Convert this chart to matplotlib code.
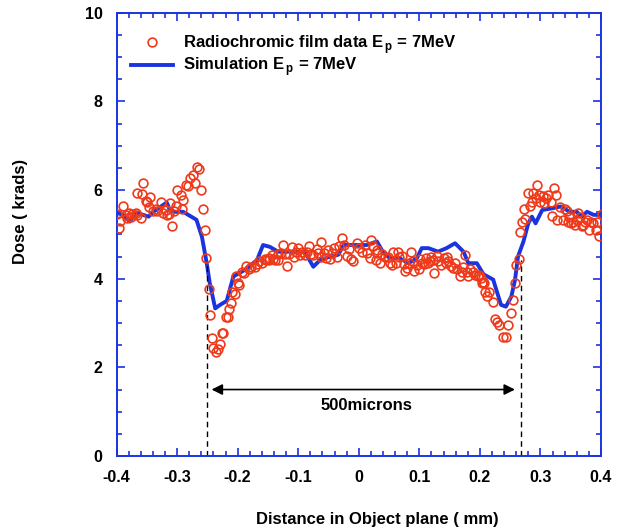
import matplotlib
matplotlib.use("Agg")
import matplotlib.pyplot as plt
from matplotlib.ticker import MultipleLocator

plt.rcParams['font.family'] = ['Liberation Sans', 'DejaVu Sans']
plt.rcParams['font.weight'] = 'bold'
plt.rcParams['mathtext.fontset'] = 'custom'
plt.rcParams['mathtext.bf'] = 'Liberation Sans:bold'
plt.rcParams['mathtext.rm'] = 'Liberation Sans:bold'

# Simulation curve
sim_x = [-0.400, -0.390, -0.378, -0.367, -0.347, -0.339, -0.317, -0.312, -0.306, -0.290,
         -0.268, -0.259, -0.251, -0.246, -0.237, -0.229, -0.218, -0.207, -0.188, -0.168,
         -0.158, -0.147, -0.133, -0.119, -0.089, -0.080, -0.075, -0.064, -0.047, -0.034,
         -0.025, -0.009, 0.013, 0.030, 0.041, 0.052, 0.068, 0.082, 0.096, 0.104,
         0.115, 0.131, 0.145, 0.159, 0.173, 0.181, 0.195, 0.206, 0.222, 0.229,
         0.235, 0.243, 0.252, 0.258, 0.263, 0.272, 0.280, 0.286, 0.292, 0.303,
         0.320, 0.334, 0.348, 0.360, 0.368, 0.377, 0.388, 0.400]
sim_y = [5.48, 5.45, 5.29, 5.49, 5.40, 5.51, 5.72, 5.55, 5.51, 5.51,
         5.33, 4.95, 4.35, 3.90, 3.33, 3.41, 3.50, 4.05, 4.20, 4.42,
         4.76, 4.72, 4.61, 4.61, 4.61, 4.39, 4.27, 4.42, 4.50, 4.54,
         4.76, 4.76, 4.76, 4.84, 4.58, 4.46, 4.46, 4.35, 4.46, 4.69,
         4.69, 4.61, 4.69, 4.80, 4.61, 4.35, 4.35, 4.10, 3.98, 3.67,
         3.41, 3.37, 3.60, 3.97, 4.50, 4.84, 5.25, 5.40, 5.25, 5.55,
         5.59, 5.63, 5.51, 5.51, 5.40, 5.51, 5.44, 5.44]

# Radiochromic film data
film_x = [-0.399, -0.396, -0.394, -0.389, -0.385, -0.379, -0.382, -0.374, -0.376, -0.368,
          -0.366, -0.360, -0.356, -0.366, -0.358, -0.352, -0.349, -0.345, -0.347, -0.340,
          -0.335, -0.333, -0.327, -0.323, -0.319, -0.316, -0.312, -0.313, -0.309, -0.305,
          -0.302, -0.300, -0.294, -0.290, -0.292, -0.286, -0.282, -0.279, -0.273, -0.270,
          -0.267, -0.263, -0.261, -0.257, -0.254,
          -0.252, -0.248, -0.246, -0.243, -0.240, -0.236, -0.233, -0.229, -0.226, -0.224,
          -0.219, -0.216, -0.215, -0.211, -0.209, -0.205, -0.203, -0.199, -0.198, -0.193,
          -0.189, -0.186, -0.182, -0.178, -0.172, -0.168, -0.165, -0.160, -0.155, -0.149,
          -0.144, -0.141,
          -0.153, -0.148, -0.138, -0.134, -0.133, -0.129, -0.125, -0.122, -0.119, -0.115,
          -0.111, -0.107, -0.104, -0.101, -0.097, -0.093, -0.089, -0.086, -0.082, -0.079,
          -0.075, -0.069, -0.067, -0.063, -0.062, -0.057, -0.054, -0.050, -0.047, -0.044,
          -0.041, -0.036, -0.032, -0.027, -0.024, -0.020, -0.016, -0.012, -0.009, -0.003,
          0.001, 0.005, 0.010, 0.013, 0.019, 0.021, 0.024, 0.029, 0.030,
          0.030, 0.035, 0.039, 0.044, 0.049, 0.052, 0.055, 0.057, 0.061, 0.065,
          0.066, 0.071, 0.074, 0.076, 0.079, 0.083, 0.087, 0.090, 0.092, 0.096,
          0.100, 0.101, 0.105, 0.108, 0.111, 0.114, 0.118, 0.120, 0.123, 0.125,
          0.129, 0.131, 0.136, 0.140, 0.144, 0.145, 0.148, 0.152, 0.156, 0.159,
          0.162, 0.167, 0.170, 0.172, 0.175, 0.178, 0.181, 0.184, 0.188, 0.192,
          0.197, 0.202, 0.204, 0.207,
          0.198, 0.206, 0.209, 0.212, 0.215, 0.221, 0.225, 0.228, 0.232, 0.238,
          0.243, 0.246, 0.251, 0.255, 0.258, 0.260, 0.264, 0.266, 0.270, 0.275,
          0.273, 0.279, 0.283, 0.286, 0.288, 0.292, 0.294, 0.297, 0.300, 0.304,
          0.306, 0.310, 0.313, 0.317, 0.319, 0.323, 0.326, 0.328, 0.332, 0.337,
          0.340, 0.344, 0.345, 0.348, 0.351, 0.354, 0.357, 0.360, 0.362, 0.365,
          0.368, 0.371, 0.374, 0.377, 0.381, 0.384, 0.387, 0.391, 0.393, 0.397,
          0.401]
film_y = [5.46, 5.14, 5.30, 5.63, 5.44, 5.48, 5.37, 5.46, 5.39, 5.48,
          5.44, 5.37, 6.17, 5.93, 5.91, 5.76, 5.72, 5.85, 5.61, 5.52,
          5.57, 5.52, 5.72, 5.48, 5.55, 5.44, 5.70, 5.46, 5.18, 5.52,
          5.63, 5.99, 5.89, 5.78, 5.57, 6.12, 6.10, 6.27, 6.34, 6.17,
          6.52, 6.47, 5.99, 5.57, 5.09,
          4.46, 3.76, 3.18, 2.67, 2.43, 2.35, 2.41, 2.52, 2.77, 2.77,
          3.13, 3.13, 3.31, 3.46, 3.69, 3.65, 4.06, 3.91, 3.86, 4.16,
          4.12, 4.29, 4.21, 4.27, 4.26, 4.33, 4.39, 4.35, 4.44, 4.42,
          4.54, 4.44,
          4.42, 4.46, 4.42, 4.56, 4.42, 4.59, 4.76, 4.56, 4.29, 4.56,
          4.71, 4.50, 4.61, 4.69, 4.54, 4.61, 4.54, 4.61, 4.74, 4.56,
          4.54, 4.67, 4.58, 4.82, 4.50, 4.59, 4.46, 4.65, 4.44, 4.58,
          4.69, 4.50, 4.73, 4.91, 4.76, 4.51, 4.67, 4.44, 4.41, 4.80,
          4.69, 4.61, 4.76, 4.59, 4.46, 4.88, 4.73, 4.42, 4.65,
          4.58, 4.35, 4.56, 4.48, 4.50, 4.35, 4.31, 4.61, 4.35, 4.61,
          4.50, 4.51, 4.33, 4.18, 4.24, 4.35, 4.61, 4.39, 4.18, 4.31,
          4.21, 4.44, 4.35, 4.33, 4.46, 4.35, 4.39, 4.48, 4.42, 4.12,
          4.51, 4.39, 4.31, 4.46, 4.35, 4.48, 4.39, 4.29, 4.24, 4.35,
          4.21, 4.05, 4.16, 4.27, 4.54, 4.16, 4.05, 4.21, 4.16, 4.09,
          4.05, 4.01, 3.91, 3.90,
          4.09, 3.93, 3.71, 3.60, 3.69, 3.48, 3.09, 3.03, 2.96, 2.69,
          2.69, 2.96, 3.22, 3.51, 3.90, 4.31, 4.44, 5.06, 5.27, 5.34,
          5.57, 5.93, 5.64, 5.74, 5.93, 5.82, 6.12, 5.89, 5.74, 5.87,
          5.70, 5.82, 5.89, 5.72, 5.42, 6.04, 5.89, 5.33, 5.61, 5.33,
          5.57, 5.52, 5.29, 5.40, 5.25, 5.29, 5.21, 5.33, 5.49, 5.40,
          5.18, 5.21, 5.29, 5.33, 5.10, 5.29, 5.25, 5.10, 5.29, 4.97,
          5.46]

xticks = [-0.4, -0.3, -0.2, -0.1, 0, 0.1, 0.2, 0.3, 0.4]
xticklabels = ['-0.4', '-0.3', '-0.2', '-0.1', '0', '0.1', '0.2', '0.3', '0.4']
yticks = [0, 2, 4, 6, 8, 10]

BLUE = '#1a34e0'
RED = '#ee3a1a'

fig = plt.figure(figsize=(6.22, 5.31), dpi=100)
ax = fig.add_axes([0.1873, 0.1412, 0.7789, 0.8348])

ax.plot(film_x, film_y, linestyle='none', marker='o', markersize=6.3,
        markerfacecolor='none', markeredgecolor=RED, markeredgewidth=1.2,
        label=r'Radiochromic film data E$_{\,\mathbf{p}}$ = 7MeV', zorder=3)
ax.plot(sim_x, sim_y, color=BLUE, lw=2.8, label=r'Simulation E$_{\,\mathbf{p}}$ = 7MeV', zorder=2)

# dashed markers and arrow
ax.plot([-0.25, -0.25], [0, 4.3], color='black', ls=(0, (4, 3)), lw=1)
ax.plot([0.268, 0.268], [0, 4.42], color='black', ls=(0, (4, 3)), lw=1)
ax.annotate('', xy=(-0.243, 1.5), xytext=(0.258, 1.5),
            arrowprops=dict(arrowstyle='<|-|>', color='black', lw=1.2,
                            mutation_scale=16, shrinkA=0, shrinkB=0))
ax.text(0.013, 1.14, '500microns', ha='center', va='center', fontsize=12, fontweight='bold')

ax.set_xlim(-0.4, 0.4)
ax.set_ylim(0, 10)
ax.set_xticks(xticks)
ax.set_xticklabels(xticklabels)
ax.set_yticks(yticks)
ax.xaxis.set_minor_locator(MultipleLocator(0.02))
ax.yaxis.set_minor_locator(MultipleLocator(0.5))
ax.tick_params(which='both', direction='in', top=True, right=True, color=BLUE, width=1.2)
ax.tick_params(which='major', length=6, labelsize=11.5, pad=10)
ax.tick_params(which='minor', length=3.5)
for lab in ax.get_xticklabels() + ax.get_yticklabels():
    lab.set_fontweight('bold')
for sp in ax.spines.values():
    sp.set_color(BLUE)
    sp.set_linewidth(1.4)

leg = ax.legend(loc='upper left', bbox_to_anchor=(0.03, 0.955), frameon=False,
                handlelength=2.5, handletextpad=0.6, borderpad=0, borderaxespad=0,
                labelspacing=0.0, prop={'weight': 'bold', 'size': 12})

fig.text(20.5 / 622, 1 - 211 / 531, 'Dose ( krads)', rotation=90, ha='center', va='center',
         fontsize=12, fontweight='bold')
fig.text(377 / 622, 1 - 524 / 531, 'Distance in Object plane ( mm)', ha='center', va='baseline',
         fontsize=12, fontweight='bold')

fig.savefig('out.png', dpi=100)
